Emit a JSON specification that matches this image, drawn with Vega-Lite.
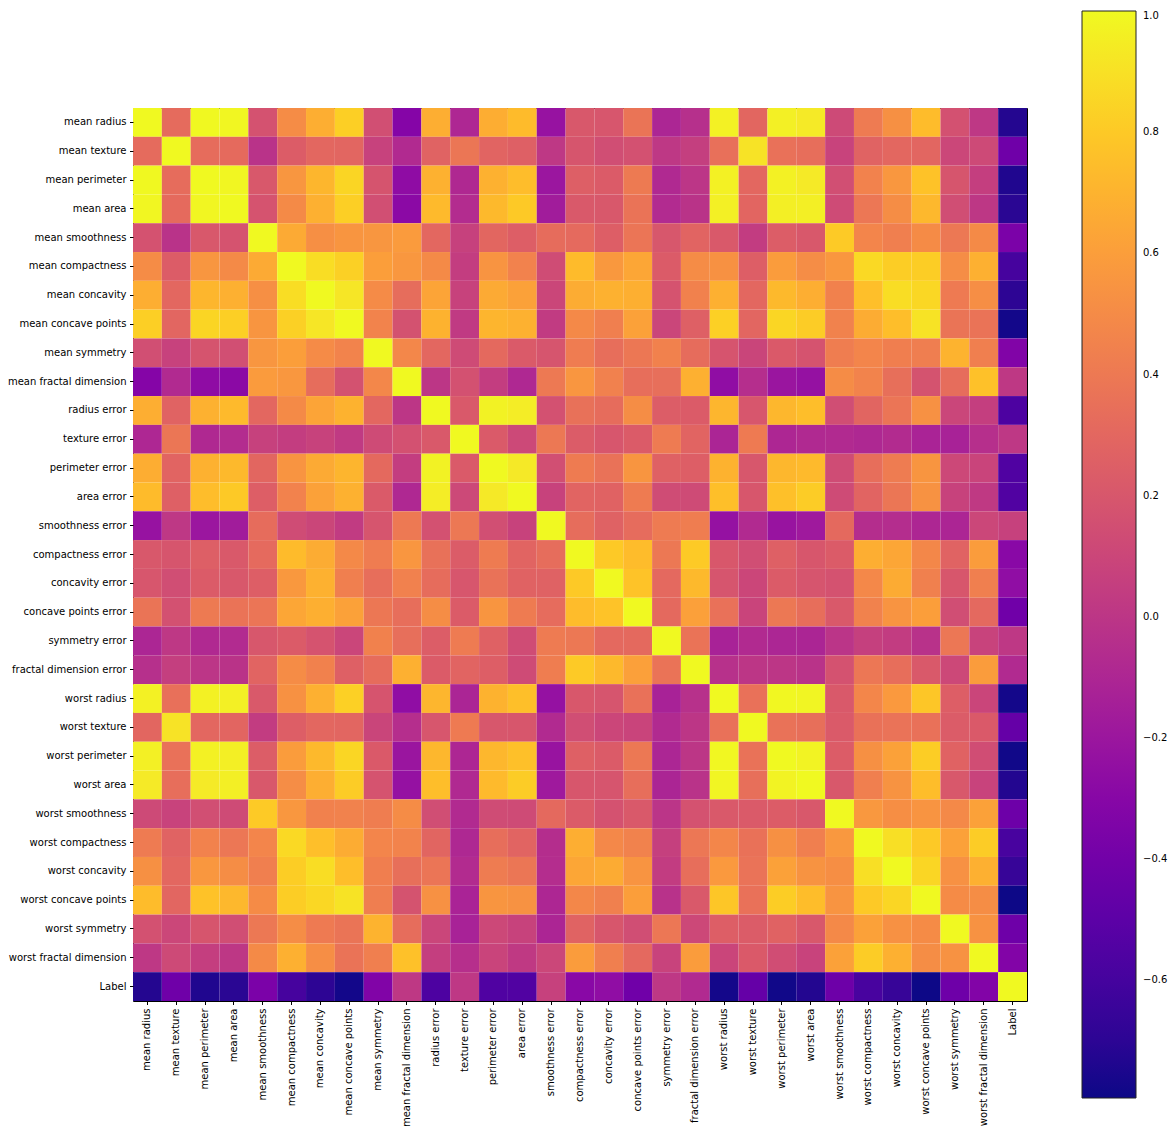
{
"$schema": "https://vega.github.io/schema/vega-lite/v6.json",
"width": 894, "height": 893,
"autosize": {"type": "none"},
"padding": {"left": 133, "top": 108, "right": 147, "bottom": 133},
"background": "white",
"datasets": {
"names": [
{"k":0,"n":"mean radius"},{"k":1,"n":"mean texture"},{"k":2,"n":"mean perimeter"},{"k":3,"n":"mean area"},{"k":4,"n":"mean smoothness"},{"k":5,"n":"mean compactness"},{"k":6,"n":"mean concavity"},{"k":7,"n":"mean concave points"},{"k":8,"n":"mean symmetry"},{"k":9,"n":"mean fractal dimension"},{"k":10,"n":"radius error"},{"k":11,"n":"texture error"},{"k":12,"n":"perimeter error"},{"k":13,"n":"area error"},{"k":14,"n":"smoothness error"},{"k":15,"n":"compactness error"},{"k":16,"n":"concavity error"},{"k":17,"n":"concave points error"},{"k":18,"n":"symmetry error"},{"k":19,"n":"fractal dimension error"},{"k":20,"n":"worst radius"},{"k":21,"n":"worst texture"},{"k":22,"n":"worst perimeter"},{"k":23,"n":"worst area"},{"k":24,"n":"worst smoothness"},{"k":25,"n":"worst compactness"},{"k":26,"n":"worst concavity"},{"k":27,"n":"worst concave points"},{"k":28,"n":"worst symmetry"},{"k":29,"n":"worst fractal dimension"},{"k":30,"n":"Label"}
],
"cells": [
{"i":0,"j":0,"v":1},{"i":0,"j":1,"v":0.324},{"i":0,"j":2,"v":0.998},{"i":0,"j":3,"v":0.987},{"i":0,"j":4,"v":0.171},{"i":0,"j":5,"v":0.506},{"i":0,"j":6,"v":0.677},{"i":0,"j":7,"v":0.823},{"i":0,"j":8,"v":0.148},{"i":0,"j":9,"v":-0.312},{"i":0,"j":10,"v":0.679},{"i":0,"j":11,"v":-0.097},{"i":0,"j":12,"v":0.674},{"i":0,"j":13,"v":0.736},{"i":0,"j":14,"v":-0.223},{"i":0,"j":15,"v":0.206},{"i":0,"j":16,"v":0.194},{"i":0,"j":17,"v":0.376},{"i":0,"j":18,"v":-0.104},{"i":0,"j":19,"v":-0.043},{"i":0,"j":20,"v":0.970},{"i":0,"j":21,"v":0.297},{"i":0,"j":22,"v":0.965},{"i":0,"j":23,"v":0.941},{"i":0,"j":24,"v":0.120},{"i":0,"j":25,"v":0.414},{"i":0,"j":26,"v":0.527},{"i":0,"j":27,"v":0.744},{"i":0,"j":28,"v":0.164},{"i":0,"j":29,"v":0.007},{"i":0,"j":30,"v":-0.730},
{"i":1,"j":0,"v":0.324},{"i":1,"j":1,"v":1},{"i":1,"j":2,"v":0.330},{"i":1,"j":3,"v":0.321},{"i":1,"j":4,"v":-0.023},{"i":1,"j":5,"v":0.237},{"i":1,"j":6,"v":0.302},{"i":1,"j":7,"v":0.294},{"i":1,"j":8,"v":0.071},{"i":1,"j":9,"v":-0.076},{"i":1,"j":10,"v":0.276},{"i":1,"j":11,"v":0.386},{"i":1,"j":12,"v":0.282},{"i":1,"j":13,"v":0.260},{"i":1,"j":14,"v":0.007},{"i":1,"j":15,"v":0.192},{"i":1,"j":16,"v":0.143},{"i":1,"j":17,"v":0.164},{"i":1,"j":18,"v":0.009},{"i":1,"j":19,"v":0.054},{"i":1,"j":20,"v":0.353},{"i":1,"j":21,"v":0.912},{"i":1,"j":22,"v":0.358},{"i":1,"j":23,"v":0.344},{"i":1,"j":24,"v":0.078},{"i":1,"j":25,"v":0.278},{"i":1,"j":26,"v":0.301},{"i":1,"j":27,"v":0.295},{"i":1,"j":28,"v":0.105},{"i":1,"j":29,"v":0.119},{"i":1,"j":30,"v":-0.415},
{"i":2,"j":0,"v":0.998},{"i":2,"j":1,"v":0.330},{"i":2,"j":2,"v":1},{"i":2,"j":3,"v":0.987},{"i":2,"j":4,"v":0.207},{"i":2,"j":5,"v":0.557},{"i":2,"j":6,"v":0.716},{"i":2,"j":7,"v":0.851},{"i":2,"j":8,"v":0.183},{"i":2,"j":9,"v":-0.261},{"i":2,"j":10,"v":0.692},{"i":2,"j":11,"v":-0.087},{"i":2,"j":12,"v":0.693},{"i":2,"j":13,"v":0.745},{"i":2,"j":14,"v":-0.203},{"i":2,"j":15,"v":0.251},{"i":2,"j":16,"v":0.228},{"i":2,"j":17,"v":0.407},{"i":2,"j":18,"v":-0.082},{"i":2,"j":19,"v":-0.006},{"i":2,"j":20,"v":0.969},{"i":2,"j":21,"v":0.303},{"i":2,"j":22,"v":0.970},{"i":2,"j":23,"v":0.942},{"i":2,"j":24,"v":0.151},{"i":2,"j":25,"v":0.456},{"i":2,"j":26,"v":0.564},{"i":2,"j":27,"v":0.771},{"i":2,"j":28,"v":0.189},{"i":2,"j":29,"v":0.051},{"i":2,"j":30,"v":-0.743},
{"i":3,"j":0,"v":0.987},{"i":3,"j":1,"v":0.321},{"i":3,"j":2,"v":0.987},{"i":3,"j":3,"v":1},{"i":3,"j":4,"v":0.177},{"i":3,"j":5,"v":0.499},{"i":3,"j":6,"v":0.686},{"i":3,"j":7,"v":0.823},{"i":3,"j":8,"v":0.151},{"i":3,"j":9,"v":-0.283},{"i":3,"j":10,"v":0.733},{"i":3,"j":11,"v":-0.066},{"i":3,"j":12,"v":0.727},{"i":3,"j":13,"v":0.800},{"i":3,"j":14,"v":-0.167},{"i":3,"j":15,"v":0.213},{"i":3,"j":16,"v":0.208},{"i":3,"j":17,"v":0.372},{"i":3,"j":18,"v":-0.073},{"i":3,"j":19,"v":-0.020},{"i":3,"j":20,"v":0.963},{"i":3,"j":21,"v":0.288},{"i":3,"j":22,"v":0.959},{"i":3,"j":23,"v":0.959},{"i":3,"j":24,"v":0.124},{"i":3,"j":25,"v":0.390},{"i":3,"j":26,"v":0.513},{"i":3,"j":27,"v":0.722},{"i":3,"j":28,"v":0.144},{"i":3,"j":29,"v":0.004},{"i":3,"j":30,"v":-0.709},
{"i":4,"j":0,"v":0.171},{"i":4,"j":1,"v":-0.023},{"i":4,"j":2,"v":0.207},{"i":4,"j":3,"v":0.177},{"i":4,"j":4,"v":1},{"i":4,"j":5,"v":0.659},{"i":4,"j":6,"v":0.522},{"i":4,"j":7,"v":0.554},{"i":4,"j":8,"v":0.558},{"i":4,"j":9,"v":0.585},{"i":4,"j":10,"v":0.302},{"i":4,"j":11,"v":0.068},{"i":4,"j":12,"v":0.296},{"i":4,"j":13,"v":0.247},{"i":4,"j":14,"v":0.332},{"i":4,"j":15,"v":0.319},{"i":4,"j":16,"v":0.248},{"i":4,"j":17,"v":0.381},{"i":4,"j":18,"v":0.201},{"i":4,"j":19,"v":0.284},{"i":4,"j":20,"v":0.213},{"i":4,"j":21,"v":0.036},{"i":4,"j":22,"v":0.239},{"i":4,"j":23,"v":0.207},{"i":4,"j":24,"v":0.805},{"i":4,"j":25,"v":0.473},{"i":4,"j":26,"v":0.435},{"i":4,"j":27,"v":0.503},{"i":4,"j":28,"v":0.394},{"i":4,"j":29,"v":0.499},{"i":4,"j":30,"v":-0.359},
{"i":5,"j":0,"v":0.506},{"i":5,"j":1,"v":0.237},{"i":5,"j":2,"v":0.557},{"i":5,"j":3,"v":0.499},{"i":5,"j":4,"v":0.659},{"i":5,"j":5,"v":1},{"i":5,"j":6,"v":0.883},{"i":5,"j":7,"v":0.831},{"i":5,"j":8,"v":0.603},{"i":5,"j":9,"v":0.565},{"i":5,"j":10,"v":0.498},{"i":5,"j":11,"v":0.046},{"i":5,"j":12,"v":0.549},{"i":5,"j":13,"v":0.456},{"i":5,"j":14,"v":0.135},{"i":5,"j":15,"v":0.739},{"i":5,"j":16,"v":0.571},{"i":5,"j":17,"v":0.642},{"i":5,"j":18,"v":0.230},{"i":5,"j":19,"v":0.507},{"i":5,"j":20,"v":0.535},{"i":5,"j":21,"v":0.248},{"i":5,"j":22,"v":0.590},{"i":5,"j":23,"v":0.510},{"i":5,"j":24,"v":0.566},{"i":5,"j":25,"v":0.866},{"i":5,"j":26,"v":0.816},{"i":5,"j":27,"v":0.816},{"i":5,"j":28,"v":0.510},{"i":5,"j":29,"v":0.687},{"i":5,"j":30,"v":-0.597},
{"i":6,"j":0,"v":0.677},{"i":6,"j":1,"v":0.302},{"i":6,"j":2,"v":0.716},{"i":6,"j":3,"v":0.686},{"i":6,"j":4,"v":0.522},{"i":6,"j":5,"v":0.883},{"i":6,"j":6,"v":1},{"i":6,"j":7,"v":0.921},{"i":6,"j":8,"v":0.501},{"i":6,"j":9,"v":0.337},{"i":6,"j":10,"v":0.632},{"i":6,"j":11,"v":0.076},{"i":6,"j":12,"v":0.660},{"i":6,"j":13,"v":0.617},{"i":6,"j":14,"v":0.099},{"i":6,"j":15,"v":0.670},{"i":6,"j":16,"v":0.691},{"i":6,"j":17,"v":0.683},{"i":6,"j":18,"v":0.178},{"i":6,"j":19,"v":0.449},{"i":6,"j":20,"v":0.688},{"i":6,"j":21,"v":0.300},{"i":6,"j":22,"v":0.730},{"i":6,"j":23,"v":0.676},{"i":6,"j":24,"v":0.449},{"i":6,"j":25,"v":0.755},{"i":6,"j":26,"v":0.884},{"i":6,"j":27,"v":0.861},{"i":6,"j":28,"v":0.410},{"i":6,"j":29,"v":0.515},{"i":6,"j":30,"v":-0.696},
{"i":7,"j":0,"v":0.823},{"i":7,"j":1,"v":0.294},{"i":7,"j":2,"v":0.851},{"i":7,"j":3,"v":0.823},{"i":7,"j":4,"v":0.554},{"i":7,"j":5,"v":0.831},{"i":7,"j":6,"v":0.921},{"i":7,"j":7,"v":1},{"i":7,"j":8,"v":0.462},{"i":7,"j":9,"v":0.167},{"i":7,"j":10,"v":0.698},{"i":7,"j":11,"v":0.022},{"i":7,"j":12,"v":0.711},{"i":7,"j":13,"v":0.690},{"i":7,"j":14,"v":0.028},{"i":7,"j":15,"v":0.490},{"i":7,"j":16,"v":0.439},{"i":7,"j":17,"v":0.616},{"i":7,"j":18,"v":0.095},{"i":7,"j":19,"v":0.258},{"i":7,"j":20,"v":0.830},{"i":7,"j":21,"v":0.293},{"i":7,"j":22,"v":0.856},{"i":7,"j":23,"v":0.810},{"i":7,"j":24,"v":0.453},{"i":7,"j":25,"v":0.668},{"i":7,"j":26,"v":0.752},{"i":7,"j":27,"v":0.910},{"i":7,"j":28,"v":0.376},{"i":7,"j":29,"v":0.369},{"i":7,"j":30,"v":-0.777},
{"i":8,"j":0,"v":0.148},{"i":8,"j":1,"v":0.071},{"i":8,"j":2,"v":0.183},{"i":8,"j":3,"v":0.151},{"i":8,"j":4,"v":0.558},{"i":8,"j":5,"v":0.603},{"i":8,"j":6,"v":0.501},{"i":8,"j":7,"v":0.462},{"i":8,"j":8,"v":1},{"i":8,"j":9,"v":0.480},{"i":8,"j":10,"v":0.303},{"i":8,"j":11,"v":0.128},{"i":8,"j":12,"v":0.314},{"i":8,"j":13,"v":0.224},{"i":8,"j":14,"v":0.187},{"i":8,"j":15,"v":0.422},{"i":8,"j":16,"v":0.343},{"i":8,"j":17,"v":0.393},{"i":8,"j":18,"v":0.449},{"i":8,"j":19,"v":0.332},{"i":8,"j":20,"v":0.186},{"i":8,"j":21,"v":0.091},{"i":8,"j":22,"v":0.219},{"i":8,"j":23,"v":0.177},{"i":8,"j":24,"v":0.427},{"i":8,"j":25,"v":0.473},{"i":8,"j":26,"v":0.434},{"i":8,"j":27,"v":0.430},{"i":8,"j":28,"v":0.700},{"i":8,"j":29,"v":0.438},{"i":8,"j":30,"v":-0.330},
{"i":9,"j":0,"v":-0.312},{"i":9,"j":1,"v":-0.076},{"i":9,"j":2,"v":-0.261},{"i":9,"j":3,"v":-0.283},{"i":9,"j":4,"v":0.585},{"i":9,"j":5,"v":0.565},{"i":9,"j":6,"v":0.337},{"i":9,"j":7,"v":0.167},{"i":9,"j":8,"v":0.480},{"i":9,"j":9,"v":1},{"i":9,"j":10,"v":0.000},{"i":9,"j":11,"v":0.164},{"i":9,"j":12,"v":0.040},{"i":9,"j":13,"v":-0.090},{"i":9,"j":14,"v":0.402},{"i":9,"j":15,"v":0.560},{"i":9,"j":16,"v":0.447},{"i":9,"j":17,"v":0.341},{"i":9,"j":18,"v":0.345},{"i":9,"j":19,"v":0.688},{"i":9,"j":20,"v":-0.254},{"i":9,"j":21,"v":-0.051},{"i":9,"j":22,"v":-0.205},{"i":9,"j":23,"v":-0.232},{"i":9,"j":24,"v":0.505},{"i":9,"j":25,"v":0.459},{"i":9,"j":26,"v":0.346},{"i":9,"j":27,"v":0.175},{"i":9,"j":28,"v":0.334},{"i":9,"j":29,"v":0.767},{"i":9,"j":30,"v":0.013},
{"i":10,"j":0,"v":0.679},{"i":10,"j":1,"v":0.276},{"i":10,"j":2,"v":0.692},{"i":10,"j":3,"v":0.733},{"i":10,"j":4,"v":0.302},{"i":10,"j":5,"v":0.498},{"i":10,"j":6,"v":0.632},{"i":10,"j":7,"v":0.698},{"i":10,"j":8,"v":0.303},{"i":10,"j":9,"v":0.000},{"i":10,"j":10,"v":1},{"i":10,"j":11,"v":0.213},{"i":10,"j":12,"v":0.973},{"i":10,"j":13,"v":0.952},{"i":10,"j":14,"v":0.165},{"i":10,"j":15,"v":0.356},{"i":10,"j":16,"v":0.332},{"i":10,"j":17,"v":0.513},{"i":10,"j":18,"v":0.241},{"i":10,"j":19,"v":0.228},{"i":10,"j":20,"v":0.715},{"i":10,"j":21,"v":0.195},{"i":10,"j":22,"v":0.720},{"i":10,"j":23,"v":0.752},{"i":10,"j":24,"v":0.142},{"i":10,"j":25,"v":0.287},{"i":10,"j":26,"v":0.381},{"i":10,"j":27,"v":0.531},{"i":10,"j":28,"v":0.095},{"i":10,"j":29,"v":0.050},{"i":10,"j":30,"v":-0.567},
{"i":11,"j":0,"v":-0.097},{"i":11,"j":1,"v":0.386},{"i":11,"j":2,"v":-0.087},{"i":11,"j":3,"v":-0.066},{"i":11,"j":4,"v":0.068},{"i":11,"j":5,"v":0.046},{"i":11,"j":6,"v":0.076},{"i":11,"j":7,"v":0.022},{"i":11,"j":8,"v":0.128},{"i":11,"j":9,"v":0.164},{"i":11,"j":10,"v":0.213},{"i":11,"j":11,"v":1},{"i":11,"j":12,"v":0.223},{"i":11,"j":13,"v":0.112},{"i":11,"j":14,"v":0.397},{"i":11,"j":15,"v":0.232},{"i":11,"j":16,"v":0.195},{"i":11,"j":17,"v":0.230},{"i":11,"j":18,"v":0.412},{"i":11,"j":19,"v":0.280},{"i":11,"j":20,"v":-0.112},{"i":11,"j":21,"v":0.409},{"i":11,"j":22,"v":-0.102},{"i":11,"j":23,"v":-0.083},{"i":11,"j":24,"v":-0.074},{"i":11,"j":25,"v":-0.092},{"i":11,"j":26,"v":-0.069},{"i":11,"j":27,"v":-0.120},{"i":11,"j":28,"v":-0.128},{"i":11,"j":29,"v":-0.046},{"i":11,"j":30,"v":0.008},
{"i":12,"j":0,"v":0.674},{"i":12,"j":1,"v":0.282},{"i":12,"j":2,"v":0.693},{"i":12,"j":3,"v":0.727},{"i":12,"j":4,"v":0.296},{"i":12,"j":5,"v":0.549},{"i":12,"j":6,"v":0.660},{"i":12,"j":7,"v":0.711},{"i":12,"j":8,"v":0.314},{"i":12,"j":9,"v":0.040},{"i":12,"j":10,"v":0.973},{"i":12,"j":11,"v":0.223},{"i":12,"j":12,"v":1},{"i":12,"j":13,"v":0.938},{"i":12,"j":14,"v":0.151},{"i":12,"j":15,"v":0.416},{"i":12,"j":16,"v":0.362},{"i":12,"j":17,"v":0.556},{"i":12,"j":18,"v":0.267},{"i":12,"j":19,"v":0.244},{"i":12,"j":20,"v":0.697},{"i":12,"j":21,"v":0.200},{"i":12,"j":22,"v":0.721},{"i":12,"j":23,"v":0.731},{"i":12,"j":24,"v":0.130},{"i":12,"j":25,"v":0.342},{"i":12,"j":26,"v":0.419},{"i":12,"j":27,"v":0.555},{"i":12,"j":28,"v":0.110},{"i":12,"j":29,"v":0.085},{"i":12,"j":30,"v":-0.556},
{"i":13,"j":0,"v":0.736},{"i":13,"j":1,"v":0.260},{"i":13,"j":2,"v":0.745},{"i":13,"j":3,"v":0.800},{"i":13,"j":4,"v":0.247},{"i":13,"j":5,"v":0.456},{"i":13,"j":6,"v":0.617},{"i":13,"j":7,"v":0.690},{"i":13,"j":8,"v":0.224},{"i":13,"j":9,"v":-0.090},{"i":13,"j":10,"v":0.952},{"i":13,"j":11,"v":0.112},{"i":13,"j":12,"v":0.938},{"i":13,"j":13,"v":1},{"i":13,"j":14,"v":0.075},{"i":13,"j":15,"v":0.285},{"i":13,"j":16,"v":0.271},{"i":13,"j":17,"v":0.416},{"i":13,"j":18,"v":0.134},{"i":13,"j":19,"v":0.127},{"i":13,"j":20,"v":0.757},{"i":13,"j":21,"v":0.197},{"i":13,"j":22,"v":0.761},{"i":13,"j":23,"v":0.811},{"i":13,"j":24,"v":0.125},{"i":13,"j":25,"v":0.283},{"i":13,"j":26,"v":0.385},{"i":13,"j":27,"v":0.538},{"i":13,"j":28,"v":0.074},{"i":13,"j":29,"v":0.018},{"i":13,"j":30,"v":-0.548},
{"i":14,"j":0,"v":-0.223},{"i":14,"j":1,"v":0.007},{"i":14,"j":2,"v":-0.203},{"i":14,"j":3,"v":-0.167},{"i":14,"j":4,"v":0.332},{"i":14,"j":5,"v":0.135},{"i":14,"j":6,"v":0.099},{"i":14,"j":7,"v":0.028},{"i":14,"j":8,"v":0.187},{"i":14,"j":9,"v":0.402},{"i":14,"j":10,"v":0.165},{"i":14,"j":11,"v":0.397},{"i":14,"j":12,"v":0.151},{"i":14,"j":13,"v":0.075},{"i":14,"j":14,"v":1},{"i":14,"j":15,"v":0.337},{"i":14,"j":16,"v":0.269},{"i":14,"j":17,"v":0.328},{"i":14,"j":18,"v":0.414},{"i":14,"j":19,"v":0.427},{"i":14,"j":20,"v":-0.231},{"i":14,"j":21,"v":-0.075},{"i":14,"j":22,"v":-0.217},{"i":14,"j":23,"v":-0.182},{"i":14,"j":24,"v":0.315},{"i":14,"j":25,"v":-0.056},{"i":14,"j":26,"v":-0.058},{"i":14,"j":27,"v":-0.102},{"i":14,"j":28,"v":-0.107},{"i":14,"j":29,"v":0.102},{"i":14,"j":30,"v":0.067},
{"i":15,"j":0,"v":0.206},{"i":15,"j":1,"v":0.192},{"i":15,"j":2,"v":0.251},{"i":15,"j":3,"v":0.213},{"i":15,"j":4,"v":0.319},{"i":15,"j":5,"v":0.739},{"i":15,"j":6,"v":0.670},{"i":15,"j":7,"v":0.490},{"i":15,"j":8,"v":0.422},{"i":15,"j":9,"v":0.560},{"i":15,"j":10,"v":0.356},{"i":15,"j":11,"v":0.232},{"i":15,"j":12,"v":0.416},{"i":15,"j":13,"v":0.285},{"i":15,"j":14,"v":0.337},{"i":15,"j":15,"v":1},{"i":15,"j":16,"v":0.801},{"i":15,"j":17,"v":0.744},{"i":15,"j":18,"v":0.395},{"i":15,"j":19,"v":0.803},{"i":15,"j":20,"v":0.205},{"i":15,"j":21,"v":0.143},{"i":15,"j":22,"v":0.261},{"i":15,"j":23,"v":0.199},{"i":15,"j":24,"v":0.227},{"i":15,"j":25,"v":0.679},{"i":15,"j":26,"v":0.639},{"i":15,"j":27,"v":0.483},{"i":15,"j":28,"v":0.278},{"i":15,"j":29,"v":0.591},{"i":15,"j":30,"v":-0.293},
{"i":16,"j":0,"v":0.194},{"i":16,"j":1,"v":0.143},{"i":16,"j":2,"v":0.228},{"i":16,"j":3,"v":0.208},{"i":16,"j":4,"v":0.248},{"i":16,"j":5,"v":0.571},{"i":16,"j":6,"v":0.691},{"i":16,"j":7,"v":0.439},{"i":16,"j":8,"v":0.343},{"i":16,"j":9,"v":0.447},{"i":16,"j":10,"v":0.332},{"i":16,"j":11,"v":0.195},{"i":16,"j":12,"v":0.362},{"i":16,"j":13,"v":0.271},{"i":16,"j":14,"v":0.269},{"i":16,"j":15,"v":0.801},{"i":16,"j":16,"v":1},{"i":16,"j":17,"v":0.772},{"i":16,"j":18,"v":0.310},{"i":16,"j":19,"v":0.727},{"i":16,"j":20,"v":0.187},{"i":16,"j":21,"v":0.100},{"i":16,"j":22,"v":0.227},{"i":16,"j":23,"v":0.188},{"i":16,"j":24,"v":0.169},{"i":16,"j":25,"v":0.485},{"i":16,"j":26,"v":0.663},{"i":16,"j":27,"v":0.441},{"i":16,"j":28,"v":0.198},{"i":16,"j":29,"v":0.439},{"i":16,"j":30,"v":-0.254},
{"i":17,"j":0,"v":0.376},{"i":17,"j":1,"v":0.164},{"i":17,"j":2,"v":0.407},{"i":17,"j":3,"v":0.372},{"i":17,"j":4,"v":0.381},{"i":17,"j":5,"v":0.642},{"i":17,"j":6,"v":0.683},{"i":17,"j":7,"v":0.616},{"i":17,"j":8,"v":0.393},{"i":17,"j":9,"v":0.341},{"i":17,"j":10,"v":0.513},{"i":17,"j":11,"v":0.230},{"i":17,"j":12,"v":0.556},{"i":17,"j":13,"v":0.416},{"i":17,"j":14,"v":0.328},{"i":17,"j":15,"v":0.744},{"i":17,"j":16,"v":0.772},{"i":17,"j":17,"v":1},{"i":17,"j":18,"v":0.313},{"i":17,"j":19,"v":0.611},{"i":17,"j":20,"v":0.358},{"i":17,"j":21,"v":0.087},{"i":17,"j":22,"v":0.395},{"i":17,"j":23,"v":0.342},{"i":17,"j":24,"v":0.215},{"i":17,"j":25,"v":0.453},{"i":17,"j":26,"v":0.550},{"i":17,"j":27,"v":0.603},{"i":17,"j":28,"v":0.143},{"i":17,"j":29,"v":0.311},{"i":17,"j":30,"v":-0.408},
{"i":18,"j":0,"v":-0.104},{"i":18,"j":1,"v":0.009},{"i":18,"j":2,"v":-0.082},{"i":18,"j":3,"v":-0.073},{"i":18,"j":4,"v":0.201},{"i":18,"j":5,"v":0.230},{"i":18,"j":6,"v":0.178},{"i":18,"j":7,"v":0.095},{"i":18,"j":8,"v":0.449},{"i":18,"j":9,"v":0.345},{"i":18,"j":10,"v":0.241},{"i":18,"j":11,"v":0.412},{"i":18,"j":12,"v":0.267},{"i":18,"j":13,"v":0.134},{"i":18,"j":14,"v":0.414},{"i":18,"j":15,"v":0.395},{"i":18,"j":16,"v":0.310},{"i":18,"j":17,"v":0.313},{"i":18,"j":18,"v":1},{"i":18,"j":19,"v":0.369},{"i":18,"j":20,"v":-0.128},{"i":18,"j":21,"v":-0.077},{"i":18,"j":22,"v":-0.104},{"i":18,"j":23,"v":-0.110},{"i":18,"j":24,"v":-0.013},{"i":18,"j":25,"v":0.060},{"i":18,"j":26,"v":0.037},{"i":18,"j":27,"v":-0.030},{"i":18,"j":28,"v":0.389},{"i":18,"j":29,"v":0.078},{"i":18,"j":30,"v":0.007},
{"i":19,"j":0,"v":-0.043},{"i":19,"j":1,"v":0.054},{"i":19,"j":2,"v":-0.006},{"i":19,"j":3,"v":-0.020},{"i":19,"j":4,"v":0.284},{"i":19,"j":5,"v":0.507},{"i":19,"j":6,"v":0.449},{"i":19,"j":7,"v":0.258},{"i":19,"j":8,"v":0.332},{"i":19,"j":9,"v":0.688},{"i":19,"j":10,"v":0.228},{"i":19,"j":11,"v":0.280},{"i":19,"j":12,"v":0.244},{"i":19,"j":13,"v":0.127},{"i":19,"j":14,"v":0.427},{"i":19,"j":15,"v":0.803},{"i":19,"j":16,"v":0.727},{"i":19,"j":17,"v":0.611},{"i":19,"j":18,"v":0.369},{"i":19,"j":19,"v":1},{"i":19,"j":20,"v":-0.037},{"i":19,"j":21,"v":-0.003},{"i":19,"j":22,"v":-0.001},{"i":19,"j":23,"v":-0.023},{"i":19,"j":24,"v":0.171},{"i":19,"j":25,"v":0.390},{"i":19,"j":26,"v":0.340},{"i":19,"j":27,"v":0.215},{"i":19,"j":28,"v":0.111},{"i":19,"j":29,"v":0.591},{"i":19,"j":30,"v":-0.078},
{"i":20,"j":0,"v":0.970},{"i":20,"j":1,"v":0.353},{"i":20,"j":2,"v":0.969},{"i":20,"j":3,"v":0.963},{"i":20,"j":4,"v":0.213},{"i":20,"j":5,"v":0.535},{"i":20,"j":6,"v":0.688},{"i":20,"j":7,"v":0.830},{"i":20,"j":8,"v":0.186},{"i":20,"j":9,"v":-0.254},{"i":20,"j":10,"v":0.715},{"i":20,"j":11,"v":-0.112},{"i":20,"j":12,"v":0.697},{"i":20,"j":13,"v":0.757},{"i":20,"j":14,"v":-0.231},{"i":20,"j":15,"v":0.205},{"i":20,"j":16,"v":0.187},{"i":20,"j":17,"v":0.358},{"i":20,"j":18,"v":-0.128},{"i":20,"j":19,"v":-0.037},{"i":20,"j":20,"v":1},{"i":20,"j":21,"v":0.360},{"i":20,"j":22,"v":0.994},{"i":20,"j":23,"v":0.984},{"i":20,"j":24,"v":0.217},{"i":20,"j":25,"v":0.476},{"i":20,"j":26,"v":0.574},{"i":20,"j":27,"v":0.787},{"i":20,"j":28,"v":0.244},{"i":20,"j":29,"v":0.093},{"i":20,"j":30,"v":-0.776},
{"i":21,"j":0,"v":0.297},{"i":21,"j":1,"v":0.912},{"i":21,"j":2,"v":0.303},{"i":21,"j":3,"v":0.288},{"i":21,"j":4,"v":0.036},{"i":21,"j":5,"v":0.248},{"i":21,"j":6,"v":0.300},{"i":21,"j":7,"v":0.293},{"i":21,"j":8,"v":0.091},{"i":21,"j":9,"v":-0.051},{"i":21,"j":10,"v":0.195},{"i":21,"j":11,"v":0.409},{"i":21,"j":12,"v":0.200},{"i":21,"j":13,"v":0.197},{"i":21,"j":14,"v":-0.075},{"i":21,"j":15,"v":0.143},{"i":21,"j":16,"v":0.100},{"i":21,"j":17,"v":0.087},{"i":21,"j":18,"v":-0.077},{"i":21,"j":19,"v":-0.003},{"i":21,"j":20,"v":0.360},{"i":21,"j":21,"v":1},{"i":21,"j":22,"v":0.365},{"i":21,"j":23,"v":0.346},{"i":21,"j":24,"v":0.225},{"i":21,"j":25,"v":0.361},{"i":21,"j":26,"v":0.368},{"i":21,"j":27,"v":0.360},{"i":21,"j":28,"v":0.233},{"i":21,"j":29,"v":0.219},{"i":21,"j":30,"v":-0.457},
{"i":22,"j":0,"v":0.965},{"i":22,"j":1,"v":0.358},{"i":22,"j":2,"v":0.970},{"i":22,"j":3,"v":0.959},{"i":22,"j":4,"v":0.239},{"i":22,"j":5,"v":0.590},{"i":22,"j":6,"v":0.730},{"i":22,"j":7,"v":0.856},{"i":22,"j":8,"v":0.219},{"i":22,"j":9,"v":-0.205},{"i":22,"j":10,"v":0.720},{"i":22,"j":11,"v":-0.102},{"i":22,"j":12,"v":0.721},{"i":22,"j":13,"v":0.761},{"i":22,"j":14,"v":-0.217},{"i":22,"j":15,"v":0.261},{"i":22,"j":16,"v":0.227},{"i":22,"j":17,"v":0.395},{"i":22,"j":18,"v":-0.104},{"i":22,"j":19,"v":-0.001},{"i":22,"j":20,"v":0.994},{"i":22,"j":21,"v":0.365},{"i":22,"j":22,"v":1},{"i":22,"j":23,"v":0.978},{"i":22,"j":24,"v":0.237},{"i":22,"j":25,"v":0.529},{"i":22,"j":26,"v":0.618},{"i":22,"j":27,"v":0.816},{"i":22,"j":28,"v":0.270},{"i":22,"j":29,"v":0.139},{"i":22,"j":30,"v":-0.783},
{"i":23,"j":0,"v":0.941},{"i":23,"j":1,"v":0.344},{"i":23,"j":2,"v":0.942},{"i":23,"j":3,"v":0.959},{"i":23,"j":4,"v":0.207},{"i":23,"j":5,"v":0.510},{"i":23,"j":6,"v":0.676},{"i":23,"j":7,"v":0.810},{"i":23,"j":8,"v":0.177},{"i":23,"j":9,"v":-0.232},{"i":23,"j":10,"v":0.752},{"i":23,"j":11,"v":-0.083},{"i":23,"j":12,"v":0.731},{"i":23,"j":13,"v":0.811},{"i":23,"j":14,"v":-0.182},{"i":23,"j":15,"v":0.199},{"i":23,"j":16,"v":0.188},{"i":23,"j":17,"v":0.342},{"i":23,"j":18,"v":-0.110},{"i":23,"j":19,"v":-0.023},{"i":23,"j":20,"v":0.984},{"i":23,"j":21,"v":0.346},{"i":23,"j":22,"v":0.978},{"i":23,"j":23,"v":1},{"i":23,"j":24,"v":0.209},{"i":23,"j":25,"v":0.438},{"i":23,"j":26,"v":0.543},{"i":23,"j":27,"v":0.747},{"i":23,"j":28,"v":0.209},{"i":23,"j":29,"v":0.080},{"i":23,"j":30,"v":-0.734},
{"i":24,"j":0,"v":0.120},{"i":24,"j":1,"v":0.078},{"i":24,"j":2,"v":0.151},{"i":24,"j":3,"v":0.124},{"i":24,"j":4,"v":0.805},{"i":24,"j":5,"v":0.566},{"i":24,"j":6,"v":0.449},{"i":24,"j":7,"v":0.453},{"i":24,"j":8,"v":0.427},{"i":24,"j":9,"v":0.505},{"i":24,"j":10,"v":0.142},{"i":24,"j":11,"v":-0.074},{"i":24,"j":12,"v":0.130},{"i":24,"j":13,"v":0.125},{"i":24,"j":14,"v":0.315},{"i":24,"j":15,"v":0.227},{"i":24,"j":16,"v":0.169},{"i":24,"j":17,"v":0.215},{"i":24,"j":18,"v":-0.013},{"i":24,"j":19,"v":0.171},{"i":24,"j":20,"v":0.217},{"i":24,"j":21,"v":0.225},{"i":24,"j":22,"v":0.237},{"i":24,"j":23,"v":0.209},{"i":24,"j":24,"v":1},{"i":24,"j":25,"v":0.568},{"i":24,"j":26,"v":0.519},{"i":24,"j":27,"v":0.548},{"i":24,"j":28,"v":0.494},{"i":24,"j":29,"v":0.618},{"i":24,"j":30,"v":-0.422},
{"i":25,"j":0,"v":0.414},{"i":25,"j":1,"v":0.278},{"i":25,"j":2,"v":0.456},{"i":25,"j":3,"v":0.390},{"i":25,"j":4,"v":0.473},{"i":25,"j":5,"v":0.866},{"i":25,"j":6,"v":0.755},{"i":25,"j":7,"v":0.668},{"i":25,"j":8,"v":0.473},{"i":25,"j":9,"v":0.459},{"i":25,"j":10,"v":0.287},{"i":25,"j":11,"v":-0.092},{"i":25,"j":12,"v":0.342},{"i":25,"j":13,"v":0.283},{"i":25,"j":14,"v":-0.056},{"i":25,"j":15,"v":0.679},{"i":25,"j":16,"v":0.485},{"i":25,"j":17,"v":0.453},{"i":25,"j":18,"v":0.060},{"i":25,"j":19,"v":0.390},{"i":25,"j":20,"v":0.476},{"i":25,"j":21,"v":0.361},{"i":25,"j":22,"v":0.529},{"i":25,"j":23,"v":0.438},{"i":25,"j":24,"v":0.568},{"i":25,"j":25,"v":1},{"i":25,"j":26,"v":0.892},{"i":25,"j":27,"v":0.801},{"i":25,"j":28,"v":0.614},{"i":25,"j":29,"v":0.810},{"i":25,"j":30,"v":-0.591},
{"i":26,"j":0,"v":0.527},{"i":26,"j":1,"v":0.301},{"i":26,"j":2,"v":0.564},{"i":26,"j":3,"v":0.513},{"i":26,"j":4,"v":0.435},{"i":26,"j":5,"v":0.816},{"i":26,"j":6,"v":0.884},{"i":26,"j":7,"v":0.752},{"i":26,"j":8,"v":0.434},{"i":26,"j":9,"v":0.346},{"i":26,"j":10,"v":0.381},{"i":26,"j":11,"v":-0.069},{"i":26,"j":12,"v":0.419},{"i":26,"j":13,"v":0.385},{"i":26,"j":14,"v":-0.058},{"i":26,"j":15,"v":0.639},{"i":26,"j":16,"v":0.663},{"i":26,"j":17,"v":0.550},{"i":26,"j":18,"v":0.037},{"i":26,"j":19,"v":0.340},{"i":26,"j":20,"v":0.574},{"i":26,"j":21,"v":0.368},{"i":26,"j":22,"v":0.618},{"i":26,"j":23,"v":0.543},{"i":26,"j":24,"v":0.519},{"i":26,"j":25,"v":0.892},{"i":26,"j":26,"v":1},{"i":26,"j":27,"v":0.855},{"i":26,"j":28,"v":0.533},{"i":26,"j":29,"v":0.687},{"i":26,"j":30,"v":-0.660},
{"i":27,"j":0,"v":0.744},{"i":27,"j":1,"v":0.295},{"i":27,"j":2,"v":0.771},{"i":27,"j":3,"v":0.722},{"i":27,"j":4,"v":0.503},{"i":27,"j":5,"v":0.816},{"i":27,"j":6,"v":0.861},{"i":27,"j":7,"v":0.910},{"i":27,"j":8,"v":0.430},{"i":27,"j":9,"v":0.175},{"i":27,"j":10,"v":0.531},{"i":27,"j":11,"v":-0.120},{"i":27,"j":12,"v":0.555},{"i":27,"j":13,"v":0.538},{"i":27,"j":14,"v":-0.102},{"i":27,"j":15,"v":0.483},{"i":27,"j":16,"v":0.441},{"i":27,"j":17,"v":0.603},{"i":27,"j":18,"v":-0.030},{"i":27,"j":19,"v":0.215},{"i":27,"j":20,"v":0.787},{"i":27,"j":21,"v":0.360},{"i":27,"j":22,"v":0.816},{"i":27,"j":23,"v":0.747},{"i":27,"j":24,"v":0.548},{"i":27,"j":25,"v":0.801},{"i":27,"j":26,"v":0.855},{"i":27,"j":27,"v":1},{"i":27,"j":28,"v":0.503},{"i":27,"j":29,"v":0.511},{"i":27,"j":30,"v":-0.794},
{"i":28,"j":0,"v":0.164},{"i":28,"j":1,"v":0.105},{"i":28,"j":2,"v":0.189},{"i":28,"j":3,"v":0.144},{"i":28,"j":4,"v":0.394},{"i":28,"j":5,"v":0.510},{"i":28,"j":6,"v":0.410},{"i":28,"j":7,"v":0.376},{"i":28,"j":8,"v":0.700},{"i":28,"j":9,"v":0.334},{"i":28,"j":10,"v":0.095},{"i":28,"j":11,"v":-0.128},{"i":28,"j":12,"v":0.110},{"i":28,"j":13,"v":0.074},{"i":28,"j":14,"v":-0.107},{"i":28,"j":15,"v":0.278},{"i":28,"j":16,"v":0.198},{"i":28,"j":17,"v":0.143},{"i":28,"j":18,"v":0.389},{"i":28,"j":19,"v":0.111},{"i":28,"j":20,"v":0.244},{"i":28,"j":21,"v":0.233},{"i":28,"j":22,"v":0.270},{"i":28,"j":23,"v":0.209},{"i":28,"j":24,"v":0.494},{"i":28,"j":25,"v":0.614},{"i":28,"j":26,"v":0.533},{"i":28,"j":27,"v":0.503},{"i":28,"j":28,"v":1},{"i":28,"j":29,"v":0.538},{"i":28,"j":30,"v":-0.416},
{"i":29,"j":0,"v":0.007},{"i":29,"j":1,"v":0.119},{"i":29,"j":2,"v":0.051},{"i":29,"j":3,"v":0.004},{"i":29,"j":4,"v":0.499},{"i":29,"j":5,"v":0.687},{"i":29,"j":6,"v":0.515},{"i":29,"j":7,"v":0.369},{"i":29,"j":8,"v":0.438},{"i":29,"j":9,"v":0.767},{"i":29,"j":10,"v":0.050},{"i":29,"j":11,"v":-0.046},{"i":29,"j":12,"v":0.085},{"i":29,"j":13,"v":0.018},{"i":29,"j":14,"v":0.102},{"i":29,"j":15,"v":0.591},{"i":29,"j":16,"v":0.439},{"i":29,"j":17,"v":0.311},{"i":29,"j":18,"v":0.078},{"i":29,"j":19,"v":0.591},{"i":29,"j":20,"v":0.093},{"i":29,"j":21,"v":0.219},{"i":29,"j":22,"v":0.139},{"i":29,"j":23,"v":0.080},{"i":29,"j":24,"v":0.618},{"i":29,"j":25,"v":0.810},{"i":29,"j":26,"v":0.687},{"i":29,"j":27,"v":0.511},{"i":29,"j":28,"v":0.538},{"i":29,"j":29,"v":1},{"i":29,"j":30,"v":-0.324},
{"i":30,"j":0,"v":-0.730},{"i":30,"j":1,"v":-0.415},{"i":30,"j":2,"v":-0.743},{"i":30,"j":3,"v":-0.709},{"i":30,"j":4,"v":-0.359},{"i":30,"j":5,"v":-0.597},{"i":30,"j":6,"v":-0.696},{"i":30,"j":7,"v":-0.777},{"i":30,"j":8,"v":-0.330},{"i":30,"j":9,"v":0.013},{"i":30,"j":10,"v":-0.567},{"i":30,"j":11,"v":0.008},{"i":30,"j":12,"v":-0.556},{"i":30,"j":13,"v":-0.548},{"i":30,"j":14,"v":0.067},{"i":30,"j":15,"v":-0.293},{"i":30,"j":16,"v":-0.254},{"i":30,"j":17,"v":-0.408},{"i":30,"j":18,"v":0.007},{"i":30,"j":19,"v":-0.078},{"i":30,"j":20,"v":-0.776},{"i":30,"j":21,"v":-0.457},{"i":30,"j":22,"v":-0.783},{"i":30,"j":23,"v":-0.734},{"i":30,"j":24,"v":-0.422},{"i":30,"j":25,"v":-0.591},{"i":30,"j":26,"v":-0.660},{"i":30,"j":27,"v":-0.794},{"i":30,"j":28,"v":-0.416},{"i":30,"j":29,"v":-0.324},{"i":30,"j":30,"v":1}
]
},
"data": {"name": "cells"},
"transform": [
{"lookup": "i", "from": {"data": {"name": "names"}, "key": "k", "fields": ["n"]}, "as": ["row"]},
{"lookup": "j", "from": {"data": {"name": "names"}, "key": "k", "fields": ["n"]}, "as": ["col"]}
],
"mark": {"type": "rect", "strokeWidth": 0},
"encoding": {
"x": {"field": "col", "type": "nominal", "sort": {"field": "j", "op": "min"}, "title": null,
  "scale": {"paddingInner": 0, "paddingOuter": 0},
  "axis": {"labelAngle": -90, "domain": false, "tickSize": 3.5, "tickColor": "#000", "labelPadding": 3.5, "labelColor": "#000", "labelFont": "DejaVu Sans", "labelFontSize": 10, "labelLimit": 300}},
"y": {"field": "row", "type": "nominal", "sort": {"field": "i", "op": "min"}, "title": null,
  "scale": {"paddingInner": 0, "paddingOuter": 0},
  "axis": {"domain": false, "tickSize": 3.5, "tickColor": "#000", "labelPadding": 3.5, "labelColor": "#000", "labelFont": "DejaVu Sans", "labelFontSize": 10, "labelLimit": 300}},
"color": {"field": "v", "type": "quantitative", "title": null,
  "scale": {"scheme": "plasma", "domain": [-0.794, 1], "nice": false, "zero": false},
  "legend": {"orient": "none", "legendX": 949, "legendY": -97, "direction": "vertical", "gradientLength": 1087, "gradientThickness": 54, "gradientStrokeColor": "#222", "gradientStrokeWidth": 1, "values": [-0.6, -0.4, -0.2, 0, 0.2, 0.4, 0.6, 0.8, 1.0], "format": ".1f", "labelOverlap": false, "labelOffset": 7, "labelFont": "DejaVu Sans", "labelFontSize": 10, "labelColor": "#000"}}
},
"config": {"view": {"stroke": "#000", "strokeWidth": 1}}
}
